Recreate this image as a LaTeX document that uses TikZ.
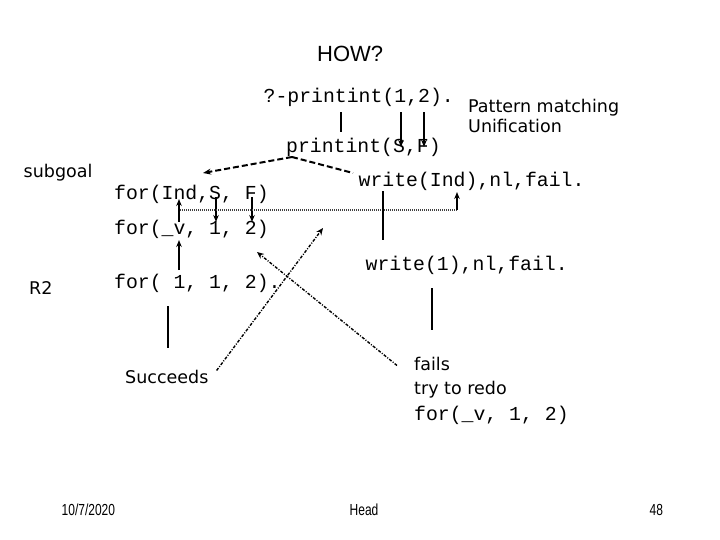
\documentclass[tikz,border=0pt]{standalone}
\usepackage{fontspec}
\setmainfont{DejaVu Sans}
\setmonofont{Liberation Mono}
\newfontfamily\arialfont{Liberation Sans}
\newfontfamily\footfont[FakeStretch=0.75]{Liberation Sans}
\usetikzlibrary{arrows.meta, positioning}

\tikzset{
  code/.style={font=\ttfamily\fontsize{19.8}{24}\selectfont, inner sep=0pt, anchor=base west},
  note/.style={font=\fontsize{17.5}{21}\selectfont, inner sep=0pt, anchor=base west},
  title/.style={font=\arialfont\fontsize{22}{26}\selectfont, inner sep=0pt, anchor=base west},
  foot/.style={font=\footfont\fontsize{16}{18}\selectfont, inner sep=0pt, anchor=base west},
  link/.style={line width=1.7pt},
  bind/.style={line width=1.7pt, -{Stealth[length=7pt, width=5.5pt]}},
  goal/.style={line width=2pt, dash pattern=on 6pt off 3pt},
  share/.style={line width=1.6pt, black!75, dash pattern=on 1pt off 1pt},
  retry/.style={line width=1.4pt, dash pattern=on 3pt off 1.5pt on 1pt off 1.5pt, -{Stealth[length=7pt, width=6pt]}}
}

\begin{document}
\begin{tikzpicture}[x=1pt, y=-1pt]
  \useasboundingbox (0,0) rectangle (720,540);
  % goals and clauses
  \node[title] (how) at (317,62) {HOW?};
  \node[code] (query) at (263.5,103) {?-printint(1,2).};
  \node[note] (pm) at (468,113) {Pattern matching};
  \node[note] (unif) at (468,133) {Unification};
  \node[code] (head) at (286,153) {printint(S,F)};
  \node[note] (subgoal) at (23.5,178) {subgoal};
  \node[code] (forhead) at (114,200) {for(Ind,S, F)};
  \node[code] (body) at (358.5,187) {write(Ind),nl,fail.};
  \node[code] (forv) at (114,235) {for(\_v, 1, 2)};
  \node[code] (bodyone) at (365.5,270) {write(1),nl,fail.};
  \node[note] (rtwo) at (29,294) {R2};
  \node[code] (forone) at (114,288) {for( 1, 1, 2).};
  \node[note] (succ) at (125,383) {Succeeds};
  \node[note] (fails) at (414,370) {fails};
  \node[note] (redo) at (414,394) {try to redo};
  \node[code] (forvtwo) at (414,420) {for(\_v, 1, 2)};
  % footer
  \node[foot] (date) at (61.5,515) {10/7/2020};
  \node[foot] (topic) at (349.5,515) {Head};
  \node[foot] (page) at (649.5,515) {48};

  % resolution steps
  \draw[link] (341,0 |- query.south) ++(0,5) -- (341,132);
  \foreach \x in {401,424}
    \draw[bind] (\x,0 |- query.south) ++(0,5) -- (\x,147);
  \coordinate (apex) at (292,157);
  \draw[goal, -{Stealth[length=8pt, width=6pt]}] (apex) -- (203,173);
  \draw[goal] (apex) -- (353,173);

  % bindings of for/3
  \draw[bind, {Stealth[length=7pt, width=5.5pt]}-] (179,199) -- (179,222);
  \foreach \x in {216,252}
    \draw[bind] (\x,197) -- (\x,222);
  \draw[bind] (179,270) -- (179,240);
  \coordinate (share) at (180,210);
  \draw[share] (share) -- (457,210);
  \draw[bind] (457,210) -- (457,192);
  \draw[link] (383,0 |- body.south) -- (383,240);
  \draw[link] (432,288) -- (432,330);
  \draw[link] (168,306) -- (168,348);

  % backtracking
  \draw[retry] (succ.east) ++(8,-6) -- (323,228);
  \draw[retry] (fails.west) ++(-17,2) -- (257,252);
\end{tikzpicture}
\end{document}
